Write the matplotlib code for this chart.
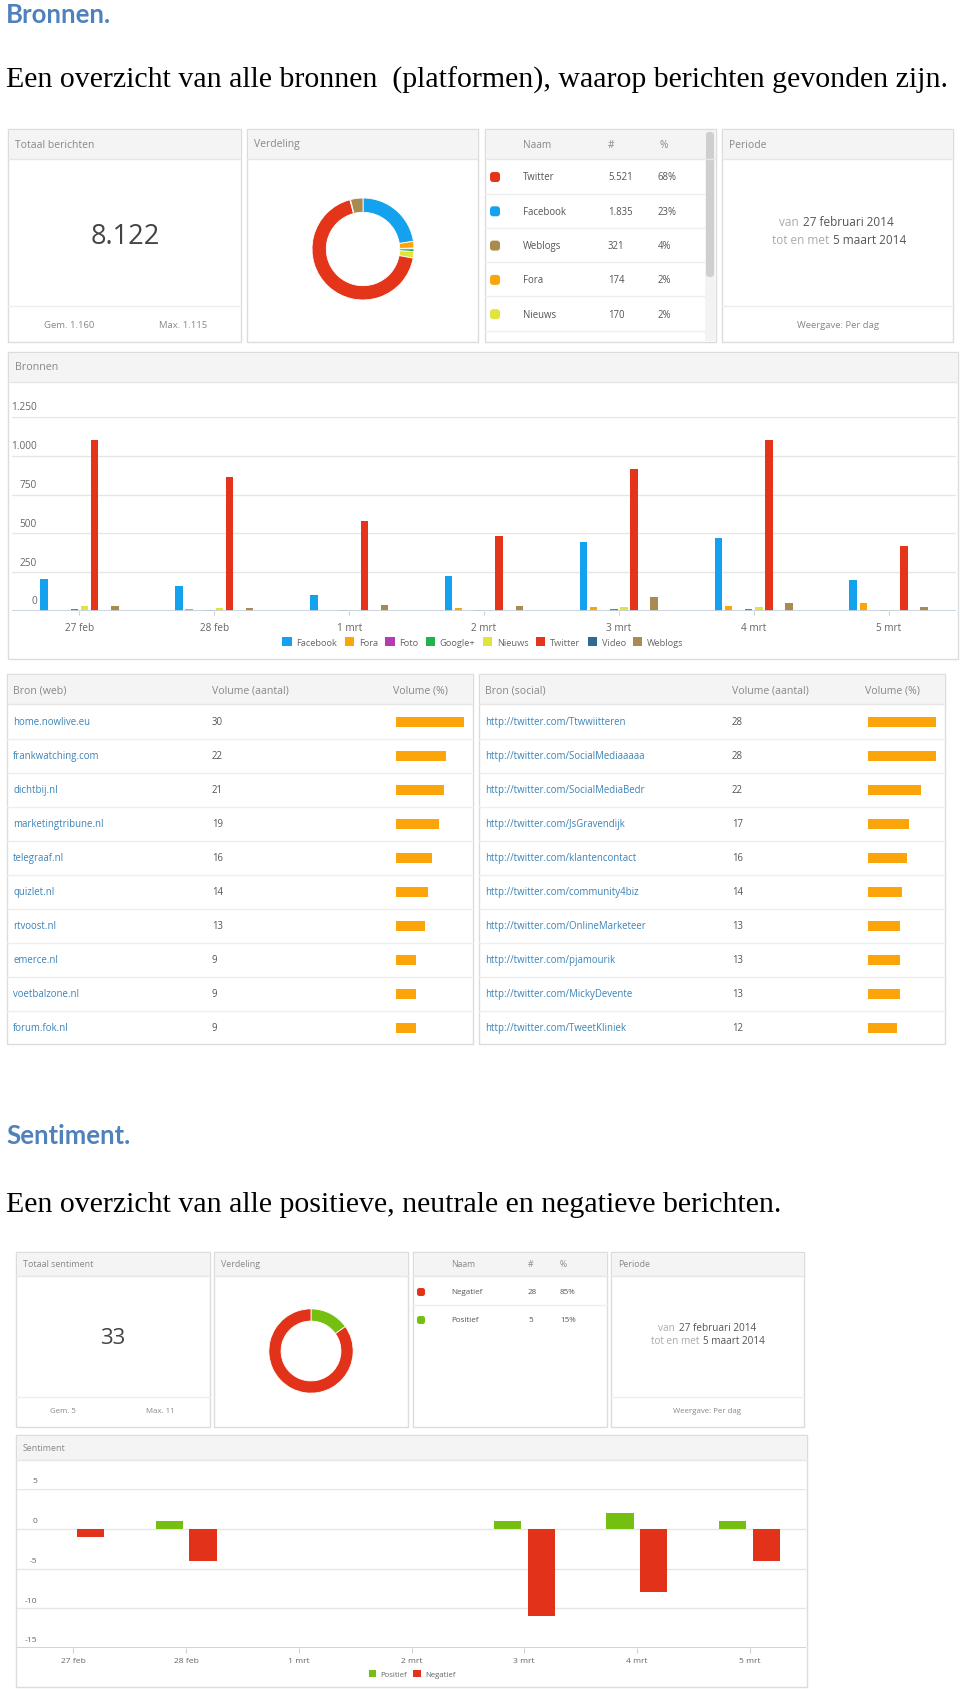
import numpy as np
import matplotlib.pyplot as plt
from matplotlib.patches import Rectangle, FancyBboxPatch

plt.rcParams['font.family'] = ['Open Sans', 'DejaVu Sans']

# ---------------- data ----------------
dagen = ['27 feb', '28 feb', '1 mrt', '2 mrt', '3 mrt', '4 mrt', '5 mrt']
bronnen = ['Facebook', 'Fora', 'Foto', 'Google+', 'Nieuws', 'Twitter', 'Video', 'Weblogs']
facebook = [207, 160, 103, 225, 445, 470, 200]
fora = [2, 10, 2, 22, 28, 30, 50]
foto = [0, 0, 0, 0, 0, 0, 0]
google = [15, 5, 5, 8, 15, 12, 5]
nieuws = [30, 22, 8, 8, 28, 28, 8]
twitter = [1105, 866, 580, 485, 917, 1105, 420]
video = [0, 0, 0, 0, 0, 0, 0]
weblogs = [30, 20, 40, 30, 90, 50, 28]
bron_yticks = [0, 250, 500, 750, 1000, 1250]

# totals per platform (donut, same order as bronnen)
totaal_per_bron = [1835, 174, 16, 70, 170, 5521, 15, 321]
totaal_berichten = 8122
gem_berichten = 1160
max_berichten = 1115

top_namen = ['Twitter', 'Facebook', 'Weblogs', 'Fora', 'Nieuws']
top_aantal = [5521, 1835, 321, 174, 170]
top_pct = ['68%', '23%', '4%', '2%', '2%']

web_namen = ['home.nowlive.eu', 'frankwatching.com', 'dichtbij.nl', 'marketingtribune.nl',
             'telegraaf.nl', 'quizlet.nl', 'rtvoost.nl', 'emerce.nl', 'voetbalzone.nl',
             'forum.fok.nl']
web_volume = [30, 22, 21, 19, 16, 14, 13, 9, 9, 9]
social_namen = ['http://twitter.com/Ttwwiitteren', 'http://twitter.com/SocialMediaaaaa',
                'http://twitter.com/SocialMediaBedr', 'http://twitter.com/JsGravendijk',
                'http://twitter.com/klantencontact', 'http://twitter.com/community4biz',
                'http://twitter.com/OnlineMarketeer', 'http://twitter.com/pjamourik',
                'http://twitter.com/MickyDevente', 'http://twitter.com/TweetKliniek']
social_volume = [28, 28, 22, 17, 16, 14, 13, 13, 13, 12]

positief = [0, 1, 0, 0, 1, 2, 1]
negatief = [1, 4, 0, 0, 11, 8, 4]
sent_yticks = [-15, -10, -5, 0, 5]
sent_namen = ['Negatief', 'Positief']
sent_aantal = [28, 5]
sent_pct = ['85%', '15%']
totaal_sentiment = 33
gem_sentiment = 5
max_sentiment = 11

# ---------------- style ----------------
kleuren = ['#14a2ee', '#fba50a', '#b43cae', '#20b24c', '#e2e43e', '#e4341a', '#2f6a94', '#a98a4f']
top_kleuren = ['#e4341a', '#14a2ee', '#a98a4f', '#fba50a', '#e2e43e']
GROEN = '#74bf10'
ROOD = '#e3321a'
ORANJE = '#fba50a'
RAND = '#dcdcdc'
KOP = '#f4f4f4'
LIJN = '#e6e6e6'
GRIJS = '#888888'
DONKER = '#555555'
LINK = '#3b83b8'
HEADING = '#4f81bd'

W, H = 960, 1690
fig = plt.figure(figsize=(W / 100, H / 100), dpi=100)


def px_axes(x0, y0, x1, y1):
    a = fig.add_axes([x0 / W, 1 - y1 / H, (x1 - x0) / W, (y1 - y0) / H])
    a.set_facecolor('none')
    return a


def fmt(v):
    return f"{v:,}".replace(',', '.')


bg = fig.add_axes([0, 0, 1, 1])
bg.set_xlim(0, W)
bg.set_ylim(H, 0)
bg.axis('off')


def panel(x0, y0, x1, y1, hdr, title=None, fs=7.5, footer=None):
    bg.add_patch(Rectangle((x0, y0), x1 - x0, y1 - y0, fc='white', ec=RAND, lw=1))
    bg.add_patch(Rectangle((x0 + 0.5, y0 + 0.5), x1 - x0 - 1, hdr, fc=KOP, ec='none'))
    bg.plot([x0, x1], [y0 + hdr, y0 + hdr], color=LIJN, lw=1)
    if title:
        bg.text(x0 + 7, y0 + hdr / 2, title, fontsize=fs, color=GRIJS, va='center')
    if footer:
        bg.plot([x0, x1], [footer, footer], color='#eeeeee', lw=1)


def donut(cx, cy, r, vals, cols, width):
    a = px_axes(cx - r, cy - r, cx + r, cy + r)
    a.pie(vals, colors=cols, startangle=90, counterclock=False, radius=1,
          wedgeprops=dict(width=width, edgecolor='white', linewidth=0.6))
    a.set_xlim(-1.02, 1.02)
    a.set_ylim(-1.02, 1.02)
    a.axis('off')


def periode(xs, y1, y2, fs):
    bg.text(xs[0] - 2, y1, 'van', fontsize=fs, color='#aaaaaa', ha='right', va='center')
    bg.text(xs[0] + 2, y1, '27 februari 2014', fontsize=fs, color=DONKER, ha='left', va='center')
    bg.text(xs[1] - 2, y2, 'tot en met', fontsize=fs, color='#aaaaaa', ha='right', va='center')
    bg.text(xs[1] + 2, y2, '5 maart 2014', fontsize=fs, color=DONKER, ha='left', va='center')


# ---------------- headings ----------------
bg.text(6, 23, 'Bronnen.', fontsize=18.5, fontweight='bold', color=HEADING,
        family=['Lato', 'DejaVu Sans'], va='baseline')
bg.text(6, 88, 'Een overzicht van alle bronnen  (platformen), waarop berichten gevonden zijn.',
        fontsize=21.5, color='black', family=['Liberation Serif', 'DejaVu Serif'], va='baseline')
bg.text(6, 1144, 'Sentiment.', fontsize=18.5, fontweight='bold', color=HEADING,
        family=['Lato', 'DejaVu Sans'], va='baseline')
bg.text(6, 1212, 'Een overzicht van alle positieve, neutrale en negatieve berichten.',
        fontsize=21.5, color='black', family=['Liberation Serif', 'DejaVu Serif'], va='baseline')

# ---------------- top row panels (Bronnen) ----------------
panel(8, 130, 241, 343, 30, 'Totaal berichten', footer=307)
bg.text(125, 237, fmt(totaal_berichten), fontsize=19.5, color='#444444', ha='center', va='center')
bg.text(69, 325, 'Gem. ' + fmt(gem_berichten), fontsize=6.8, color=GRIJS, ha='center', va='center')
bg.text(183, 325, 'Max. ' + fmt(max_berichten), fontsize=6.8, color=GRIJS, ha='center', va='center')

panel(247, 130, 478, 343, 30, 'Verdeling')
donut(363, 250, 52, totaal_per_bron, kleuren, 0.28)

panel(485, 130, 716, 343, 30)
bg.text(523, 146, 'Naam', fontsize=7.3, color=GRIJS, va='center')
bg.text(608, 146, '#', fontsize=7.3, color=GRIJS, va='center')
bg.text(660, 146, '%', fontsize=7.3, color=GRIJS, va='center')
for i, (naam, n, p, c) in enumerate(zip(top_namen, top_aantal, top_pct, top_kleuren)):
    yy = 178 + i * 34.3
    bg.add_patch(FancyBboxPatch((490, yy - 5), 10, 10, boxstyle='round,pad=0,rounding_size=3',
                                fc=c, ec='none'))
    bg.text(523, yy, naam, fontsize=6.9, color=DONKER, va='center')
    bg.text(608, yy, fmt(n), fontsize=6.9, color=DONKER, va='center')
    bg.text(658, yy, p, fontsize=6.9, color=DONKER, va='center')
    bg.plot([485, 704], [yy + 16.5, yy + 16.5], color='#eeeeee', lw=1)
bg.add_patch(Rectangle((705, 131), 10, 211, fc='#f3f3f3', ec='none'))
bg.add_patch(FancyBboxPatch((706, 133), 8, 145, boxstyle='round,pad=0,rounding_size=3',
                            fc='#cfcfcf', ec='none'))

panel(722, 130, 953, 343, 30, 'Periode', footer=307)
periode([801, 831], 223, 240, 8.5)
bg.text(838, 325, 'Weergave: Per dag', fontsize=6.8, color=GRIJS, ha='center', va='center')

# ---------------- Bronnen bar chart ----------------
panel(8, 353, 958, 660, 30, 'Bronnen', fs=7.7)
ax = px_axes(12, 418, 956, 612)
x = np.arange(len(dagen))
series = [facebook, fora, foto, google, nieuws, twitter, video, weblogs]
for i, (naam, vals) in enumerate(zip(bronnen, series)):
    ax.bar(x + (i - 3.5) * 0.075, vals, width=0.056, color=kleuren[i], label=naam, zorder=3)
ax.set_xlim(-0.5, 6.5)
ax.set_ylim(0, 1250)
ax.set_yticks(bron_yticks)
ax.grid(axis='y', color=LIJN, lw=1)
ax.tick_params(axis='y', left=False, labelleft=False)
for s in ax.spines.values():
    s.set_visible(False)
ax.axhline(0, color='#c6d3df', lw=1.3, zorder=4)
ax.set_xticks(x, dagen)
ax.tick_params(axis='x', length=3, color='#c6d3df', pad=5, labelsize=7.2, labelcolor='#666666')
for v in bron_yticks:
    ax.annotate(fmt(v), xy=(0, v), xycoords=ax.get_yaxis_transform(), xytext=(25, 10),
                textcoords='offset pixels', ha='right', va='center', fontsize=7.3, color='#666666')
fig.legend(*ax.get_legend_handles_labels(), loc='center', bbox_to_anchor=(483 / W, 1 - 643 / H),
           ncol=8, frameon=False, fontsize=6.7, handlelength=1.0, handleheight=1.0,
           handletextpad=0.5, columnspacing=0.8, labelcolor='#666666')

# ---------------- tables ----------------
def tabel(x0, x1, kop, namen, volumes, xnum, xpct, xbar):
    panel(x0, 675, x1, 1045, 30)
    bg.text(x0 + 6, 691, kop, fontsize=7.6, color=GRIJS, va='center')
    bg.text(xnum, 691, 'Volume (aantal)', fontsize=7.6, color=GRIJS, va='center')
    bg.text(xpct, 691, 'Volume (%)', fontsize=7.6, color=GRIJS, va='center')
    for i, (naam, v) in enumerate(zip(namen, volumes)):
        yy = 723 + i * 34
        bg.text(x0 + 6, yy, naam, fontsize=6.9, color=LINK, va='center')
        bg.text(xnum, yy, str(v), fontsize=6.9, color=DONKER, va='center')
        if i < len(namen) - 1:
            bg.plot([x0, x1], [yy + 17, yy + 17], color='#eeeeee', lw=1)
    a = px_axes(xbar, 706, xbar + 68, 1046)
    a.barh(np.arange(len(volumes)), volumes, height=0.3, color=ORANJE)
    a.set_xlim(0, max(volumes))
    a.set_ylim(len(volumes) - 0.5, -0.5)
    a.axis('off')


tabel(7, 473, 'Bron (web)', web_namen, web_volume, 212, 393, 396)
tabel(479, 945, 'Bron (social)', social_namen, social_volume, 732, 865, 868)

# ---------------- sentiment panels ----------------
panel(16, 1253, 210, 1428, 24, 'Totaal sentiment', fs=6.4, footer=1398)
bg.text(113, 1339, str(totaal_sentiment), fontsize=16, color='#444444', ha='center', va='center')
bg.text(63, 1412, 'Gem. ' + str(gem_sentiment), fontsize=5.7, color=GRIJS, ha='center', va='center')
bg.text(160, 1412, 'Max. ' + str(max_sentiment), fontsize=5.7, color=GRIJS, ha='center', va='center')

panel(214, 1253, 408, 1428, 24, 'Verdeling', fs=6.4)
donut(311, 1352, 43, sent_aantal[::-1], [GROEN, ROOD], 0.29)

panel(413, 1253, 607, 1428, 24)
bg.text(451, 1265, 'Naam', fontsize=6.2, color=GRIJS, va='center')
bg.text(528, 1265, '#', fontsize=6.2, color=GRIJS, va='center')
bg.text(560, 1265, '%', fontsize=6.2, color=GRIJS, va='center')
for i, (naam, n, p, c) in enumerate(zip(sent_namen, sent_aantal, sent_pct, [ROOD, GROEN])):
    yy = 1293 + i * 28
    bg.add_patch(FancyBboxPatch((417, yy - 4), 8, 8, boxstyle='round,pad=0,rounding_size=2.5',
                                fc=c, ec='none'))
    bg.text(451, yy, naam, fontsize=5.8, color=DONKER, va='center')
    bg.text(528, yy, str(n), fontsize=5.8, color=DONKER, va='center')
    bg.text(560, yy, p, fontsize=5.8, color=DONKER, va='center')
bg.plot([413, 607], [1306, 1306], color='#eeeeee', lw=1)

panel(611, 1253, 804, 1428, 24, 'Periode', fs=6.4, footer=1398)
periode([677, 701], 1329, 1342, 7.2)
bg.text(707, 1412, 'Weergave: Per dag', fontsize=5.7, color=GRIJS, ha='center', va='center')

# ---------------- sentiment chart ----------------
panel(16, 1436, 807, 1688, 25, 'Sentiment', fs=6.4)
ax2 = px_axes(17, 1490, 806, 1649)
ax2.bar(x - 0.15, positief, width=0.24, color=GROEN, label='Positief', zorder=3)
ax2.bar(x + 0.15, [-v for v in negatief], width=0.24, color=ROOD, label='Negatief', zorder=3)
ax2.set_xlim(-0.5, 6.5)
ax2.set_ylim(-15, 5)
ax2.set_yticks(sent_yticks)
ax2.grid(axis='y', color=LIJN, lw=1)
ax2.tick_params(axis='y', left=False, labelleft=False)
for s in ax2.spines.values():
    s.set_visible(False)
ax2.axhline(-15, color='#c6d3df', lw=1.3, zorder=4)
ax2.set_xticks(x, dagen)
ax2.tick_params(axis='x', length=3.5, color='#c6d3df', pad=3, labelsize=6.1, labelcolor='#666666')
for v in sent_yticks:
    ax2.annotate(str(v), xy=(0, v), xycoords=ax2.get_yaxis_transform(), xytext=(20, 8),
                 textcoords='offset pixels', ha='right', va='center', fontsize=6.1, color='#666666')
fig.legend(*ax2.get_legend_handles_labels(), loc='center', bbox_to_anchor=(412 / W, 1 - 1675 / H),
           ncol=2, frameon=False, fontsize=5.6, handlelength=1.0, handleheight=1.0,
           handletextpad=0.5, columnspacing=0.8, labelcolor='#666666')

fig.savefig('out.png', dpi=100, facecolor='white')
